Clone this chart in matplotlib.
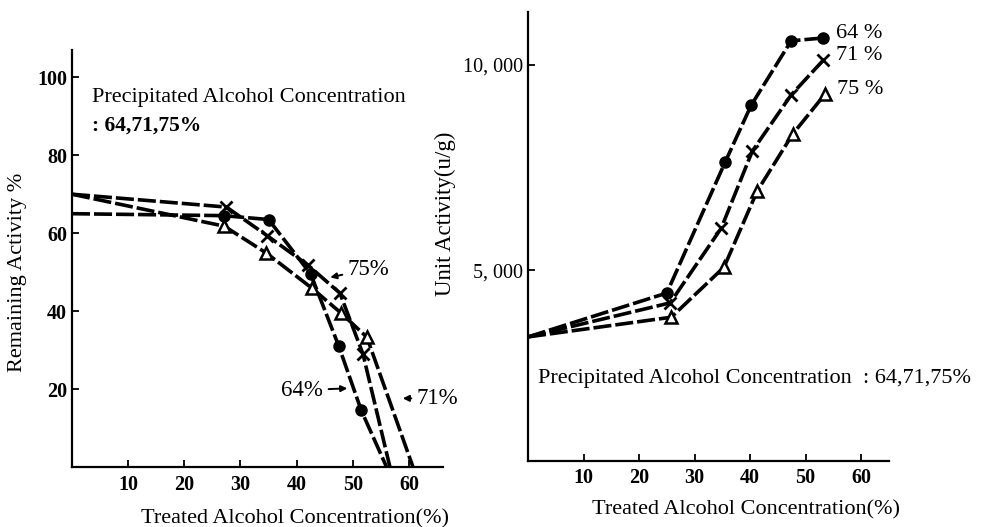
import numpy as np
import matplotlib.pyplot as plt

plt.rcParams['font.family'] = ['Liberation Serif', 'DejaVu Serif']

# ---- left panel: remaining activity (%) vs treated alcohol concentration ----
left_x_64 = [0, 27, 35, 42.5, 47.5, 51.5, 56.0]
left_y_64 = [65, 64.5, 63.5, 49.5, 31, 14.5, 0]
left_x_71 = [0, 27.5, 34.8, 42, 47.7, 51.8, 56.6]
left_y_71 = [70, 66.7, 59.3, 51.8, 44.6, 29, 0]
left_x_75 = [0, 27.1, 34.6, 42.7, 47.9, 52.5, 60.7]
left_y_75 = [70, 61.8, 54.9, 45.9, 39.5, 33.3, 0]

# ---- right panel: unit activity (u/g) vs treated alcohol concentration ----
right_x_64 = [0, 25, 35.5, 40.2, 47.4, 53.2]
right_y_64 = [3370, 4440, 7630, 9020, 10590, 10660]
right_x_71 = [0, 25.6, 34.8, 40.4, 47.4, 53.2]
right_y_71 = [3370, 4200, 6020, 7900, 9270, 10120]
right_x_75 = [0, 25.8, 35.3, 41.3, 47.7, 53.5]
right_y_75 = [3370, 3850, 5070, 6930, 8320, 9290]

x_ticks = [10, 20, 30, 40, 50, 60]
left_y_ticks = [20, 40, 60, 80, 100]
right_y_ticks = [5000, 10000]
right_y_ticklabels = ['5, 000', '10, 000']

dash = (0, (5, 1.1))
lw = 2.6

fig = plt.figure(figsize=(9.86, 5.27), dpi=100)
axL = fig.add_axes([0.073, 0.114, 0.376, 0.791])
axR = fig.add_axes([0.5355, 0.125, 0.366, 0.852])


def style(ax, bold=True):
    for s in ('top', 'right'):
        ax.spines[s].set_visible(False)
    for s in ('left', 'bottom'):
        ax.spines[s].set_linewidth(1.6)
    ax.tick_params(direction='in', length=5, width=1.3, labelsize=14.5)
    for lab in ax.get_xticklabels() + ax.get_yticklabels():
        lab.set_fontweight('bold')


def series(ax, xs, ys, marker, ms, mew, fill, every):
    ax.plot(xs, ys, color='black', lw=lw, ls=dash, dash_capstyle='butt')
    ax.plot(xs, ys, ls='none', marker=marker, ms=ms, mew=mew,
            mfc=fill, mec='black', markevery=every, zorder=3)


# left
every_mid = slice(1, -1)
series(axL, left_x_64, left_y_64, 'o', 8, 1, 'black', every_mid)
series(axL, left_x_71, left_y_71, 'x', 9, 2, 'black', every_mid)
series(axL, left_x_75, left_y_75, '^', 9, 1.8, 'white', every_mid)
axL.set_xlim(0, 66)
axL.set_ylim(0, 107)
axL.set_xticks(x_ticks)
axL.set_yticks(left_y_ticks)
style(axL)
axL.tick_params(axis='x', pad=6)

axL.text(3.6, 94.8, 'Precipitated Alcohol Concentration', fontsize=16,
         va='center', ha='left')
axL.text(3.6, 87.6, ': 64,71,75%', fontsize=15.5, va='center', ha='left',
         fontweight='bold')

arrow = dict(arrowstyle='-|>', color='black', lw=1.4, mutation_scale=9)
axL.annotate('75%', xy=(45.5, 48.5), xytext=(49.1, 50.8), fontsize=16.5,
             va='center', ha='left', arrowprops=arrow)
axL.annotate('64%', xy=(49.5, 20.2), xytext=(44.7, 19.7), fontsize=16.5,
             va='center', ha='right', arrowprops=arrow)
axL.annotate('71%', xy=(58.4, 17.6), xytext=(61.4, 17.6), fontsize=16.5,
             va='center', ha='left', arrowprops=arrow)

fig.text(18 / 986, 1 - 272 / 527, 'Remaining Activity %', rotation=90,
         fontsize=16, ha='center', va='center')
fig.text(295 / 986, 1 - 519 / 527, 'Treated Alcohol Concentration(%)',
         fontsize=16, ha='center', va='center')

# right
every_all = slice(1, None)
series(axR, right_x_64, right_y_64, 'o', 8, 1, 'black', every_all)
series(axR, right_x_71, right_y_71, 'x', 9, 2, 'black', every_all)
series(axR, right_x_75, right_y_75, '^', 9, 1.8, 'white', every_all)
axR.set_xlim(0, 65)
axR.set_ylim(341, 11290)
axR.set_xticks(x_ticks)
axR.set_yticks(right_y_ticks)
axR.set_yticklabels(right_y_ticklabels)
style(axR)
for lab in axR.get_yticklabels():
    lab.set_fontweight('normal')
axR.tick_params(axis='x', pad=5)

for xs, ys, lab in ((right_x_64, right_y_64, '64 %'),
                    (right_x_71, right_y_71, '71 %'),
                    (right_x_75, right_y_75, '75 %')):
    axR.text(xs[-1] + 2.2, ys[-1] + 120, lab, fontsize=16, va='center',
             ha='left')

axR.text(1.8, 2366, 'Precipitated Alcohol Concentration  : 64,71,75%',
         fontsize=16, va='center', ha='left')

fig.text(445 / 986, 1 - 214 / 527, 'Unit Activity(u/g)', rotation=90,
         fontsize=16.5, ha='center', va='center')
fig.text(746 / 986, 1 - 510 / 527, 'Treated Alcohol Concentration(%)',
         fontsize=16, ha='center', va='center')

fig.savefig('out.png', dpi=100)
